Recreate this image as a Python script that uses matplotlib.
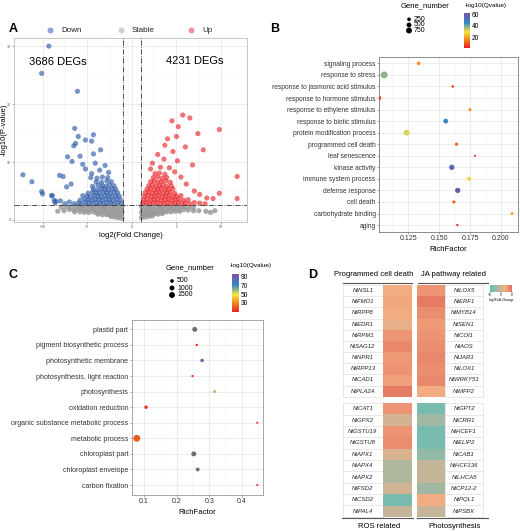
import matplotlib
matplotlib.use("Agg")
import matplotlib.pyplot as plt
import numpy as np
from matplotlib.colors import LinearSegmentedColormap, Normalize
from matplotlib.cm import ScalarMappable

plt.rcParams['font.family'] = ['Liberation Sans', 'DejaVu Sans']

W, H = 520, 531

# ---------------- A: volcano data (log2FC, -log10 p) ----------------
down_pts = [
    (-1.2, 2.9), (-1.6, 3.0), (-2.0, 2.8), (-2.4, 2.9), (-2.8, 3.0), (-3.2, 2.8), (-3.6, 2.9), (-4.0, 3.0),
    (-4.4, 2.8), (-4.8, 2.9), (-5.2, 3.0), (-5.6, 2.8), (-6.0, 2.9), (-6.5, 2.8),
    (-1.3, 3.5), (-1.7, 3.6), (-2.1, 3.4), (-2.5, 3.5), (-2.9, 3.6), (-3.3, 3.4), (-3.7, 3.5), (-4.1, 3.6),
    (-4.5, 3.4), (-4.9, 3.5), (-5.3, 3.6), (-5.8, 3.4),
    (-1.4, 4.1), (-1.8, 4.2), (-2.2, 4.0), (-2.6, 4.1), (-3.0, 4.2), (-3.4, 4.0), (-3.8, 4.1), (-4.2, 4.2),
    (-4.6, 4.0), (-5.0, 4.1), (-5.5, 4.2),
    (-1.6, 4.7), (-2.0, 4.8), (-2.4, 4.6), (-2.8, 4.7), (-3.2, 4.8), (-3.6, 4.6), (-4.0, 4.7), (-4.4, 4.8), (-4.9, 4.6),
    (-1.8, 5.3), (-2.2, 5.4), (-2.6, 5.2), (-3.0, 5.3), (-3.4, 5.4), (-3.8, 5.2), (-4.3, 5.3),
    (-2.0, 5.9), (-2.5, 6.0), (-2.9, 5.8), (-3.3, 5.9), (-3.8, 6.0), (-4.4, 5.8),
    (-2.3, 6.6), (-2.8, 6.7), (-3.4, 6.5), (-4.0, 6.6),
    (-2.7, 7.3), (-3.3, 7.4), (-3.9, 7.2), (-4.6, 7.3),
    (-7.0, 3.1), (-7.5, 2.8), (-8.0, 3.3), (-8.6, 3.0), (-8.9, 4.2), (-7.3, 5.7), (-7.7, 7.5), (-8.1, 7.7),
    (-6.8, 6.2), (-2.6, 8.2), (-3.6, 8.6), (-4.5, 8.0), (-5.2, 8.8), (-3.0, 9.4), (-4.1, 9.8), (-5.5, 9.6),
    (-6.7, 10.1), (-7.2, 10.9), (-5.8, 11.0), (-4.3, 11.4), (-3.5, 12.1), (-4.5, 13.6), (-5.2, 13.8),
    (-4.3, 14.7), (-6.0, 14.4), (-6.3, 13.2), (-6.5, 12.8), (-6.4, 15.8), (-6.1, 22.2), (-10.1, 25.3),
    (-9.3, 30.0), (-12.2, 7.8), (-11.2, 6.6), (-10.1, 4.9), (-10.0, 4.5), (-9.0, 4.2), (-8.7, 3.4), (-8.5, 3.2),
]
stable_pts = [
    (-1.1, 2.3), (-1.5, 2.4), (-1.9, 2.2), (-2.3, 2.3), (-2.7, 2.4), (-3.1, 2.2), (-3.5, 2.3), (-3.9, 2.4),
    (-4.3, 2.2), (-4.7, 2.3), (-5.1, 2.4), (-5.5, 2.2), (-5.9, 2.3), (-6.3, 2.4), (-6.8, 2.2), (-7.3, 2.3), (-7.9, 2.2),
    (-1.2, 1.8), (-1.6, 1.7), (-2.0, 1.9), (-2.4, 1.8), (-2.8, 1.7), (-3.2, 1.9), (-3.6, 1.8), (-4.0, 1.7),
    (-4.4, 1.9), (-4.8, 1.8), (-5.2, 1.7), (-5.6, 1.9), (-6.0, 1.8), (-6.5, 1.7), (-7.0, 1.8), (-7.6, 1.6), (-8.3, 1.5),
    (-1.1, 1.3), (-1.5, 1.2), (-1.9, 1.4), (-2.3, 1.3), (-2.7, 1.2), (-3.1, 1.4), (-3.5, 1.3), (-3.9, 1.2),
    (-4.3, 1.4), (-4.8, 1.3), (-5.3, 1.3), (-5.8, 1.4), (-6.4, 1.4),
    (-1.2, 0.8), (-1.6, 0.7), (-2.0, 0.9), (-2.4, 0.8), (-2.8, 0.9), (-3.3, 0.9), (-3.8, 1.0),
    (-1.1, 0.3), (-1.5, 0.4), (-1.9, 0.5), (-2.3, 0.6),
    (1.1, 2.3), (1.5, 2.4), (1.9, 2.2), (2.3, 2.3), (2.7, 2.4), (3.1, 2.2), (3.5, 2.3), (3.9, 2.4),
    (4.3, 2.2), (4.7, 2.3), (5.1, 2.4), (5.5, 2.2), (5.9, 2.3), (6.4, 2.2), (6.9, 2.1),
    (1.2, 1.8), (1.6, 1.7), (2.0, 1.9), (2.4, 1.8), (2.8, 1.7), (3.2, 1.9), (3.6, 1.8), (4.0, 1.7),
    (4.4, 1.9), (4.8, 1.8), (5.3, 1.7), (5.8, 1.8), (6.3, 1.7), (6.9, 1.6), (7.5, 1.6),
    (1.1, 1.3), (1.5, 1.2), (1.9, 1.4), (2.3, 1.3), (2.7, 1.2), (3.1, 1.4), (3.5, 1.3), (3.9, 1.4),
    (4.4, 1.4), (4.9, 1.5), (5.4, 1.5), (8.3, 1.5), (8.8, 1.3), (9.3, 1.6),
    (1.2, 0.8), (1.6, 0.9), (2.0, 0.9), (2.4, 1.0), (2.9, 1.0), (3.4, 1.1),
    (1.1, 0.4), (1.5, 0.5), (1.9, 0.6), (2.3, 0.7),
]
up_pts = [
    (1.2, 2.9), (1.6, 3.0), (2.0, 2.8), (2.4, 2.9), (2.8, 3.0), (3.2, 2.8), (3.6, 2.9), (4.0, 3.0), (4.4, 2.8),
    (4.8, 2.9), (5.2, 3.0), (5.6, 2.8), (6.0, 2.9), (6.5, 2.8), (7.0, 3.0), (7.6, 2.9), (8.2, 2.8),
    (1.3, 3.5), (1.7, 3.6), (2.1, 3.4), (2.5, 3.5), (2.9, 3.6), (3.3, 3.4), (3.7, 3.5), (4.1, 3.6),
    (4.5, 3.4), (4.9, 3.5), (5.3, 3.6), (5.8, 3.4), (6.3, 3.5),
    (1.4, 4.1), (1.8, 4.2), (2.2, 4.0), (2.6, 4.1), (3.0, 4.2), (3.4, 4.0), (3.8, 4.1), (4.2, 4.2),
    (4.6, 4.0), (5.0, 4.1), (5.5, 4.2),
    (1.5, 4.7), (1.9, 4.8), (2.3, 4.6), (2.7, 4.7), (3.1, 4.8), (3.5, 4.6), (3.9, 4.7), (4.3, 4.8), (4.8, 4.6),
    (1.7, 5.3), (2.1, 5.4), (2.5, 5.2), (2.9, 5.3), (3.3, 5.4), (3.7, 5.2), (4.1, 5.3), (4.6, 5.4),
    (1.9, 5.9), (2.3, 6.0), (2.7, 5.8), (3.1, 5.9), (3.5, 6.0), (3.9, 5.8), (4.4, 5.9),
    (2.1, 6.6), (2.5, 6.7), (2.9, 6.5), (3.3, 6.6), (3.8, 6.7), (4.3, 6.5),
    (2.4, 7.3), (2.9, 7.4), (3.4, 7.2), (3.9, 7.3),
    (2.6, 8.0), (3.1, 8.1), (3.7, 7.9),
    (4.8, 8.3), (5.5, 7.4), (6.1, 6.2), (7.0, 5.0), (7.6, 4.4), (8.4, 3.8), (9.1, 3.7), (9.8, 4.6),
    (11.8, 3.7), (11.8, 7.5), (4.2, 9.0), (2.3, 9.8), (3.6, 10.5), (5.1, 10.2), (2.9, 11.3), (4.6, 11.8),
    (3.7, 12.9), (8.0, 12.1), (6.0, 12.6), (5.0, 14.4), (7.4, 14.9), (5.2, 16.1), (4.5, 17.1), (5.7, 18.1),
    (6.5, 17.6), (9.8, 15.6), (4.0, 14.0), (6.8, 9.5), (2.1, 8.8), (3.2, 9.1),
]
n_down, n_up = 3686, 4231
fc_cut, p_cut = 1.0, 2.6

# ---------------- B: GO enrichment (up) ----------------
b_terms = ["signaling process", "response to stress", "response to jasmonic acid stimulus",
           "response to hormone stimulus", "response to ethylene stimulus", "response to biotic stimulus",
           "protein modification process", "programmed cell death", "leaf senescence", "kinase activity",
           "immune system process", "defense response", "cell death", "carbohydrate binding", "aging"]
b_rich = [0.1334, 0.1056, 0.1610, 0.1012, 0.1749, 0.1553, 0.1237, 0.1640, 0.1790, 0.1602,
          0.1742, 0.1650, 0.1619, 0.2089, 0.1647]
b_genes = [250, 1050, 80, 500, 150, 500, 750, 150, 30, 600, 300, 600, 150, 150, 60]
b_logq = [18, 38, 6, 9, 19, 45, 32, 10, 3, 55, 27, 60, 10, 21, 5]
b_size_breaks = [250, 500, 750]

# ---------------- C: GO enrichment (down) ----------------
c_terms = ["plastid part", "pigment biosynthetic process", "photosynthetic membrane",
           "photosynthesis, light reaction", "photosynthesis", "oxidation reduction",
           "organic substance metabolic process", "metabolic process", "chloroplast part",
           "chloroplast envelope", "carbon fixation"]
c_rich = [0.2555, 0.2616, 0.2780, 0.2488, 0.3163, 0.1060, 0.4474, 0.0776, 0.2525, 0.2647, 0.4474]
c_genes = [1020, 120, 430, 120, 310, 430, 50, 2100, 1000, 550, 50]
c_logq = [np.nan, 10, 90, 12, 56, 14, 9, 20, np.nan, np.nan, 9]
c_size_breaks = [500, 1000, 1500]

# ---------------- D: heatmaps (log2 fold change) ----------------
pcd_genes = ["NtNSL1", "NtFMO1", "NtRPP8", "NtEDR1", "NtRPM1", "NtSAG12", "NtNPR1", "NtRPP13", "NtCAD1", "NtPLA2A"]
pcd_fc = [3.0, 3.5, 3.0, 2.0, 5.0, 6.0, 4.5, 5.0, 4.0, 7.0]
ja_genes = ["NtLOX5", "NtERF1", "NtMYB14", "NtSEN1", "NtCOI1", "NtAOS", "NtJAR1", "NtLOX1", "NtWRKY51", "NtMFP2"]
ja_fc = [5.0, 7.0, 5.5, 4.5, 5.0, 5.5, 6.0, 5.5, 6.0, 3.0]
ros_genes = ["NtCAT1", "NtGPX2", "NtGSTU19", "NtGSTU8", "NtAPX1", "NtAPX4", "NtAPX2", "NtFSD2", "NtCSD2", "NtPAL4"]
ros_fc = [5.0, 0.5, 5.0, 5.5, 1.0, -2.0, -2.0, 0.5, -6.0, -0.5]
ps_genes = ["NtGPT2", "NtCRR1", "NtHCEF1", "NtELIP2", "NtCAB1", "NtHCF136", "NtLHCA5", "NtCP12-2", "NtPQL1", "NtPSBX"]
ps_fc = [-6.0, -3.0, -6.0, -6.0, -4.0, -0.5, -0.5, -3.0, 3.0, -0.5]

fig = plt.figure(figsize=(W / 100, H / 100), dpi=100)


def ax_px(l, t, r, b):
    return fig.add_axes([l / W, 1 - b / H, (r - l) / W, (b - t) / H])


def txt(x, y, s, **kw):
    kw.setdefault('va', 'center')
    fig.text(x / W, 1 - y / H, s, **kw)


def gg_style(ax, edge):
    for sp in ax.spines.values():
        sp.set_color(edge)
        sp.set_linewidth(0.6)
    ax.grid(True, which='major', color='#e4e4e4', lw=0.5)
    ax.grid(True, which='minor', color='#f1f1f1', lw=0.35)
    ax.set_axisbelow(True)
    ax.tick_params(which='major', length=1.5, width=0.4, color='#666666', pad=1)
    ax.tick_params(which='minor', length=0)


def b_size(g):
    return 1.5 + 0.022 * g


def c_size(g):
    return 1.5 + 0.011 * g


q_cmap = LinearSegmentedColormap.from_list(
    'q', [(0, '#e8211e'), (0.25, '#f28e1c'), (0.45, '#f4e641'), (0.72, '#2f84c6'), (1, '#8150a5')])
q_cmap.set_bad('#6e6e6e')

# ---------------- panel A ----------------
axA = ax_px(14, 38, 247, 222)
gg_style(axA, '#bdbdbd')
for pts, col, al in [(stable_pts, '#9a9a9a', 0.85), (down_pts, '#2f5ca8', 0.65), (up_pts, '#e8272b', 0.65)]:
    xs, ys = zip(*pts)
    axA.scatter(xs, ys, s=14, color=col, alpha=al, edgecolors='none', zorder=3)
axA.axvline(-fc_cut, color='#333333', lw=0.6, ls='-.', zorder=4)
axA.axvline(fc_cut, color='#333333', lw=0.6, ls='-.', zorder=4)
axA.axhline(p_cut, color='#333333', lw=0.6, ls='-.', zorder=4)
axA.set_xlim(-13.2, 12.9)
axA.set_ylim(-0.35, 31.4)
axA.set_xticks([-10, -5, 0, 5, 10])
axA.set_xticks([-7.5, -2.5, 2.5, 7.5], minor=True)
axA.set_yticks([0, 10, 20, 30])
axA.set_yticks([5, 15, 25], minor=True)
axA.tick_params(labelsize=2.5, labelcolor='#555555')
axA.set_xlabel('log2(Fold Change)', fontsize=5.5, labelpad=2)
txt(3.8, 130, '-log10(P-value)', fontsize=5.5, rotation=90, ha='center')
axA.text(-8.3, 27.2, f'{n_down} DEGs', fontsize=8, ha='center', va='center')
axA.text(7.0, 27.4, f'{n_up} DEGs', fontsize=8, ha='center', va='center')

# ---------------- panel B ----------------
b_norm = Normalize(2.9, 62.7)
axB = ax_px(379, 57, 518, 232)
gg_style(axB, '#7a7a7a')
nb = len(b_terms)
b_y = [nb - 1 - i for i in range(nb)]
axB.scatter(b_rich, b_y, s=[b_size(g) for g in b_genes], c=b_logq, cmap=q_cmap, norm=b_norm,
            edgecolors='none', zorder=3)
axB.set_xlim(0.1014, 0.2137)
axB.set_ylim(-0.6, nb - 0.45)
axB.set_xticks([0.125, 0.150, 0.175, 0.200])
axB.set_xticklabels(['0.125', '0.150', '0.175', '0.200'])
axB.set_xticks([0.1125, 0.1375, 0.1625, 0.1875], minor=True)
axB.set_yticks(b_y)
axB.set_yticklabels(b_terms)
axB.tick_params(axis='y', labelsize=4.8, labelcolor='#333333')
axB.tick_params(axis='x', labelsize=5, labelcolor='#333333')
axB.set_xlabel('RichFactor', fontsize=5.6, labelpad=2.5)

caxB = ax_px(464, 12.7, 470, 47.7)
cbB = fig.colorbar(ScalarMappable(norm=b_norm, cmap=q_cmap), cax=caxB, ticks=[20, 40, 60])
cbB.outline.set_visible(False)
caxB.tick_params(length=0, labelsize=4.8, pad=1.5)
txt(465, 5, '-log10(Qvalue)', fontsize=4.6, ha='left')
txt(425, 6, 'Gene_number', fontsize=5.5, ha='center')

# ---------------- panel C ----------------
c_norm = Normalize(9, 96)
axC = ax_px(131.7, 320, 263, 495)
gg_style(axC, '#9a9a9a')
nc = len(c_terms)
c_y = [nc - 1 - i for i in range(nc)]
axC.scatter(c_rich, c_y, s=[c_size(g) for g in c_genes], c=c_logq, cmap=q_cmap, norm=c_norm,
            edgecolors='none', plotnonfinite=True, zorder=3)
axC.set_xlim(0.062, 0.465)
axC.set_ylim(-0.64, nc - 0.4)
axC.set_xticks([0.1, 0.2, 0.3, 0.4])
axC.set_xticks([0.15, 0.25, 0.35, 0.45], minor=True)
axC.set_yticks(c_y)
axC.set_yticklabels(c_terms)
axC.tick_params(axis='y', labelsize=5.1, labelcolor='#333333')
axC.tick_params(axis='x', labelsize=5, labelcolor='#333333')
axC.set_xlabel('RichFactor', fontsize=5.6, labelpad=2.5)

caxC = ax_px(232, 274, 238.5, 312)
cbC = fig.colorbar(ScalarMappable(norm=c_norm, cmap=q_cmap), cax=caxC, ticks=[30, 50, 70, 90])
cbC.outline.set_visible(False)
caxC.tick_params(length=0, labelsize=4.8, pad=1.5)
txt(230, 266, '-log10(Qvalue)', fontsize=4.6, ha='left')
txt(190, 268, 'Gene_number', fontsize=5.5, ha='center')

# ---------------- panel D ----------------
d_cmap = LinearSegmentedColormap.from_list(
    'fc', [(0, '#5bbfb8'), (0.5, '#cbb598'), (0.68, '#f3af82'), (1, '#e4705f')])


def name_col(l, t, r, b, genes):
    ax = ax_px(l, t, r, b)
    n = len(genes)
    ax.set_xlim(0, 1)
    ax.set_ylim(n, 0)
    for k in range(1, n):
        ax.axhline(k, color='#d6d6d6', lw=0.4)
    for k, g in enumerate(genes):
        ax.text(0.5, k + 0.5, g, fontsize=4.3, style='italic', ha='center', va='center', color='#222222')
    ax.set_xticks([])
    ax.set_yticks([])
    for sp in ax.spines.values():
        sp.set_color('#d6d6d6')
        sp.set_linewidth(0.4)


def heat_col(l, t, r, b, vals):
    ax = ax_px(l, t, r, b)
    ax.imshow(np.array(vals)[:, None], cmap=d_cmap, vmin=-8, vmax=8, aspect='auto', interpolation='nearest')
    ax.axis('off')


name_col(343, 285, 383, 396.7, pcd_genes)
heat_col(383, 285, 411.7, 396.7, pcd_fc)
heat_col(417.3, 285, 445, 396.7, ja_fc)
name_col(445, 285, 483.3, 396.7, ja_genes)
name_col(343, 403.3, 383, 516.7, ros_genes)
heat_col(383, 403.3, 411.7, 516.7, ros_fc)
heat_col(417.3, 403.3, 445, 516.7, ps_fc)
name_col(445, 403.3, 483.3, 516.7, ps_genes)

caxD = ax_px(490, 285, 512, 291.5)
cbD = fig.colorbar(ScalarMappable(norm=Normalize(-8, 8), cmap=d_cmap), cax=caxD, orientation='horizontal',
                   ticks=[-8, 0, 8])
cbD.outline.set_visible(False)
caxD.tick_params(length=0.8, width=0.3, labelsize=2.3, pad=0.5)
txt(501, 299.5, 'log2Fold Change', fontsize=2.3, ha='center')

# ---------------- overlay: legends, panel letters, header lines ----------------
ov = fig.add_axes([0, 0, 1, 1])
ov.set_xlim(0, W)
ov.set_ylim(H, 0)
ov.axis('off')

for xm, col, lab in [(50, '#8ea6d6', 'Down'), (121, '#cfcfcf', 'Stable'), (191, '#f0959c', 'Up')]:
    ov.plot([xm], [30], 'o', ms=4.3, color=col, mec='none')
    ov.text(xm + 11, 30, lab, fontsize=5.8, va='center', ha='left', color='#222222')

for yy, g in zip([19.3, 25, 30.5], b_size_breaks):
    ov.scatter([409], [yy], s=b_size(g), color='black', edgecolors='none')
    ov.text(414, yy, str(g), fontsize=5, va='center', ha='left')
for yy, g in zip([281, 288, 295], c_size_breaks):
    ov.scatter([172], [yy], s=c_size(g), color='black', edgecolors='none')
    ov.text(177, yy, str(g), fontsize=5, va='center', ha='left')

for xl, yl, L in [(13, 29, 'A'), (275, 29, 'B'), (13, 275, 'C'), (313, 275, 'D')]:
    ov.text(xl, yl, L, fontsize=9, fontweight='bold', ha='center', va='center')

ov.plot([343, 411.7], [282.7, 282.7], color='#555555', lw=0.8)
ov.plot([417.5, 488], [282.7, 282.7], color='#555555', lw=0.8)
ov.plot([341.7, 412.7], [518.3, 518.3], color='#555555', lw=0.8)
ov.plot([416.7, 488], [518.3, 518.3], color='#555555', lw=0.8)
ov.text(374, 275, 'Programmed cell death', fontsize=5.5, ha='center', va='center')
ov.text(453.5, 275, 'JA pathway related', fontsize=5.5, ha='center', va='center')
ov.text(379, 526, 'ROS related', fontsize=5.5, ha='center', va='center')
ov.text(455, 526, 'Photosynthesis', fontsize=5.5, ha='center', va='center')

fig.savefig('out.png', dpi=100)
